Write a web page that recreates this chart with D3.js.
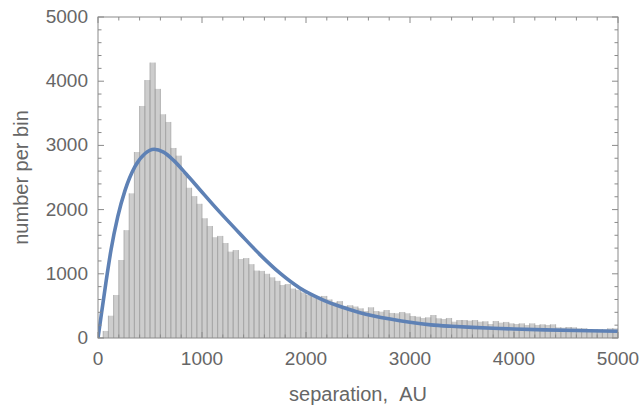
<!DOCTYPE html>
<html>
<head>
<meta charset="utf-8">
<script src="https://cdn.jsdelivr.net/npm/d3@7"></script>
<style>
  body { margin: 0; background: #fff; }
  svg { display: block; font-family: "Liberation Sans", Arial, sans-serif; }
  .frame { fill: none; stroke: #8a8a8a; stroke-width: 1; }
  .tick line { stroke: #8a8a8a; }
  .ticklabel { fill: #666; font-size: 19px; }
  .title { fill: #666; font-size: 20px; }
  .bar { fill: #cdcdcd; }
  .edge { fill: none; stroke: #a4a4a4; stroke-width: 0.8; }
  .fit { fill: none; stroke: #5e81b5; stroke-width: 3.6; stroke-linejoin: round; }
</style>
</head>
<body>
<script>
// Data {{{1
const binWidth = 50;
// counts per 50 AU bin, 0 .. 5000 AU
const binCounts = [
  10, 110, 347, 670, 1215, 1680, 2253, 2897, 3614, 4018,
  4290, 3880, 3485, 3365, 2960, 2840, 2575, 2340, 2210, 2090,
  1865, 1745, 1570, 1590, 1480, 1345, 1370, 1230, 1245, 1150,
  1050, 1045, 1000, 945, 890, 825, 840, 770, 750, 710,
  670, 655, 645, 655, 600, 555, 575, 500, 510, 490,
  462, 420, 478, 420, 410, 436, 390, 385, 405, 385,
  343, 332, 312, 322, 358, 307, 296, 312, 254, 280,
  280, 270, 280, 254, 260, 218, 265, 239, 250, 228,
  218, 228, 203, 228, 203, 213, 203, 213, 166, 161,
  171, 166, 150, 150, 140, 135, 135, 135, 150, 150
];
// fitted curve
const curveAU = [0, 35, 75, 125, 190, 260, 355, 450, 540, 630, 725, 850, 980, 1110, 1240, 1365, 1560, 1750, 1940, 2135, 2330, 2520, 2810, 3000, 3200, 3400, 3600, 3800, 4000, 4300, 4600, 5000];
const curveCount = [0, 400, 850, 1370, 1890, 2300, 2670, 2870, 2940, 2895, 2770, 2550, 2310, 2070, 1840, 1625, 1295, 1010, 780, 615, 490, 395, 295, 245, 205, 182, 165, 152, 140, 126, 116, 106];
const xTicks = [0, 1000, 2000, 3000, 4000, 5000];
const yTicks = [0, 1000, 2000, 3000, 4000, 5000];
const xTitle = "separation,\u00a0\u00a0AU";
const yTitle = "number per bin";

// Main {{{1
const width = 644, height = 410;
const plot = { left: 98, right: 618, top: 17, bottom: 338 };

const svg = d3.select("body").append("svg")
  .attr("width", width)
  .attr("height", height);

const x = d3.scaleLinear().domain([0, 5000]).range([plot.left, plot.right]);
const y = d3.scaleLinear().domain([0, 5000]).range([plot.bottom, plot.top]);

const bins = binCounts.map((c, i) => ({ x0: i * binWidth, x1: (i + 1) * binWidth, count: c }));

svg.append("clipPath").attr("id", "clip")
  .append("rect")
  .attr("x", plot.left).attr("y", plot.top)
  .attr("width", plot.right - plot.left).attr("height", plot.bottom - plot.top);

const g = svg.append("g").attr("clip-path", "url(#clip)");

g.selectAll(".bar")
  .data(bins)
  .join("rect")
  .classed("bar", true)
  .attr("x", (d) => x(d.x0))
  .attr("y", (d) => y(d.count))
  .attr("width", (d) => x(d.x1) - x(d.x0))
  .attr("height", (d) => y(0) - y(d.count));

// vertical bar edges only
g.selectAll(".edge")
  .data(bins)
  .join("path")
  .classed("edge", true)
  .attr("d", (d) => "M" + x(d.x0) + "," + y(0) + "V" + y(d.count) +
                    "M" + x(d.x1) + "," + y(d.count) + "V" + y(0));

const line = d3.line()
  .x((d) => x(d[0]))
  .y((d) => y(d[1]))
  .curve(d3.curveMonotoneX);

g.append("path")
  .classed("fit", true)
  .attr("d", line(curveAU.map((a, i) => [a, curveCount[i]])));

// Frame and ticks {{{1
svg.append("rect").classed("frame", true)
  .attr("x", plot.left).attr("y", plot.top)
  .attr("width", plot.right - plot.left).attr("height", plot.bottom - plot.top);

const minor = 200;
const xMinor = d3.range(0, 5001, minor);
const yMinor = d3.range(0, 5001, minor);
const major = (v) => v % 1000 === 0;

const ticks = svg.append("g").classed("tick", true);
xMinor.forEach((v) => {
  const len = major(v) ? 6 : 3.5;
  ticks.append("line").attr("x1", x(v)).attr("x2", x(v)).attr("y1", plot.bottom).attr("y2", plot.bottom - len);
  ticks.append("line").attr("x1", x(v)).attr("x2", x(v)).attr("y1", plot.top).attr("y2", plot.top + len);
});
yMinor.forEach((v) => {
  const len = major(v) ? 6 : 3.5;
  ticks.append("line").attr("y1", y(v)).attr("y2", y(v)).attr("x1", plot.left).attr("x2", plot.left + len);
  ticks.append("line").attr("y1", y(v)).attr("y2", y(v)).attr("x1", plot.right).attr("x2", plot.right - len);
});

svg.selectAll(".xlab")
  .data(xTicks)
  .join("text")
  .classed("ticklabel", true)
  .attr("x", (d) => x(d))
  .attr("y", 365)
  .attr("text-anchor", "middle")
  .text((d) => d);

svg.selectAll(".ylab")
  .data(yTicks)
  .join("text")
  .classed("ticklabel", true)
  .attr("x", 88)
  .attr("y", (d) => y(d))
  .attr("dy", "0.32em")
  .attr("text-anchor", "end")
  .text((d) => d);

svg.append("text").classed("title", true)
  .attr("x", (plot.left + plot.right) / 2)
  .attr("y", 401)
  .attr("text-anchor", "middle")
  .text(xTitle);

svg.append("text").classed("title", true)
  .attr("transform", "translate(28," + ((plot.top + plot.bottom) / 2) + ") rotate(-90)")
  .attr("text-anchor", "middle")
  .text(yTitle);
</script>
</body>
</html>
